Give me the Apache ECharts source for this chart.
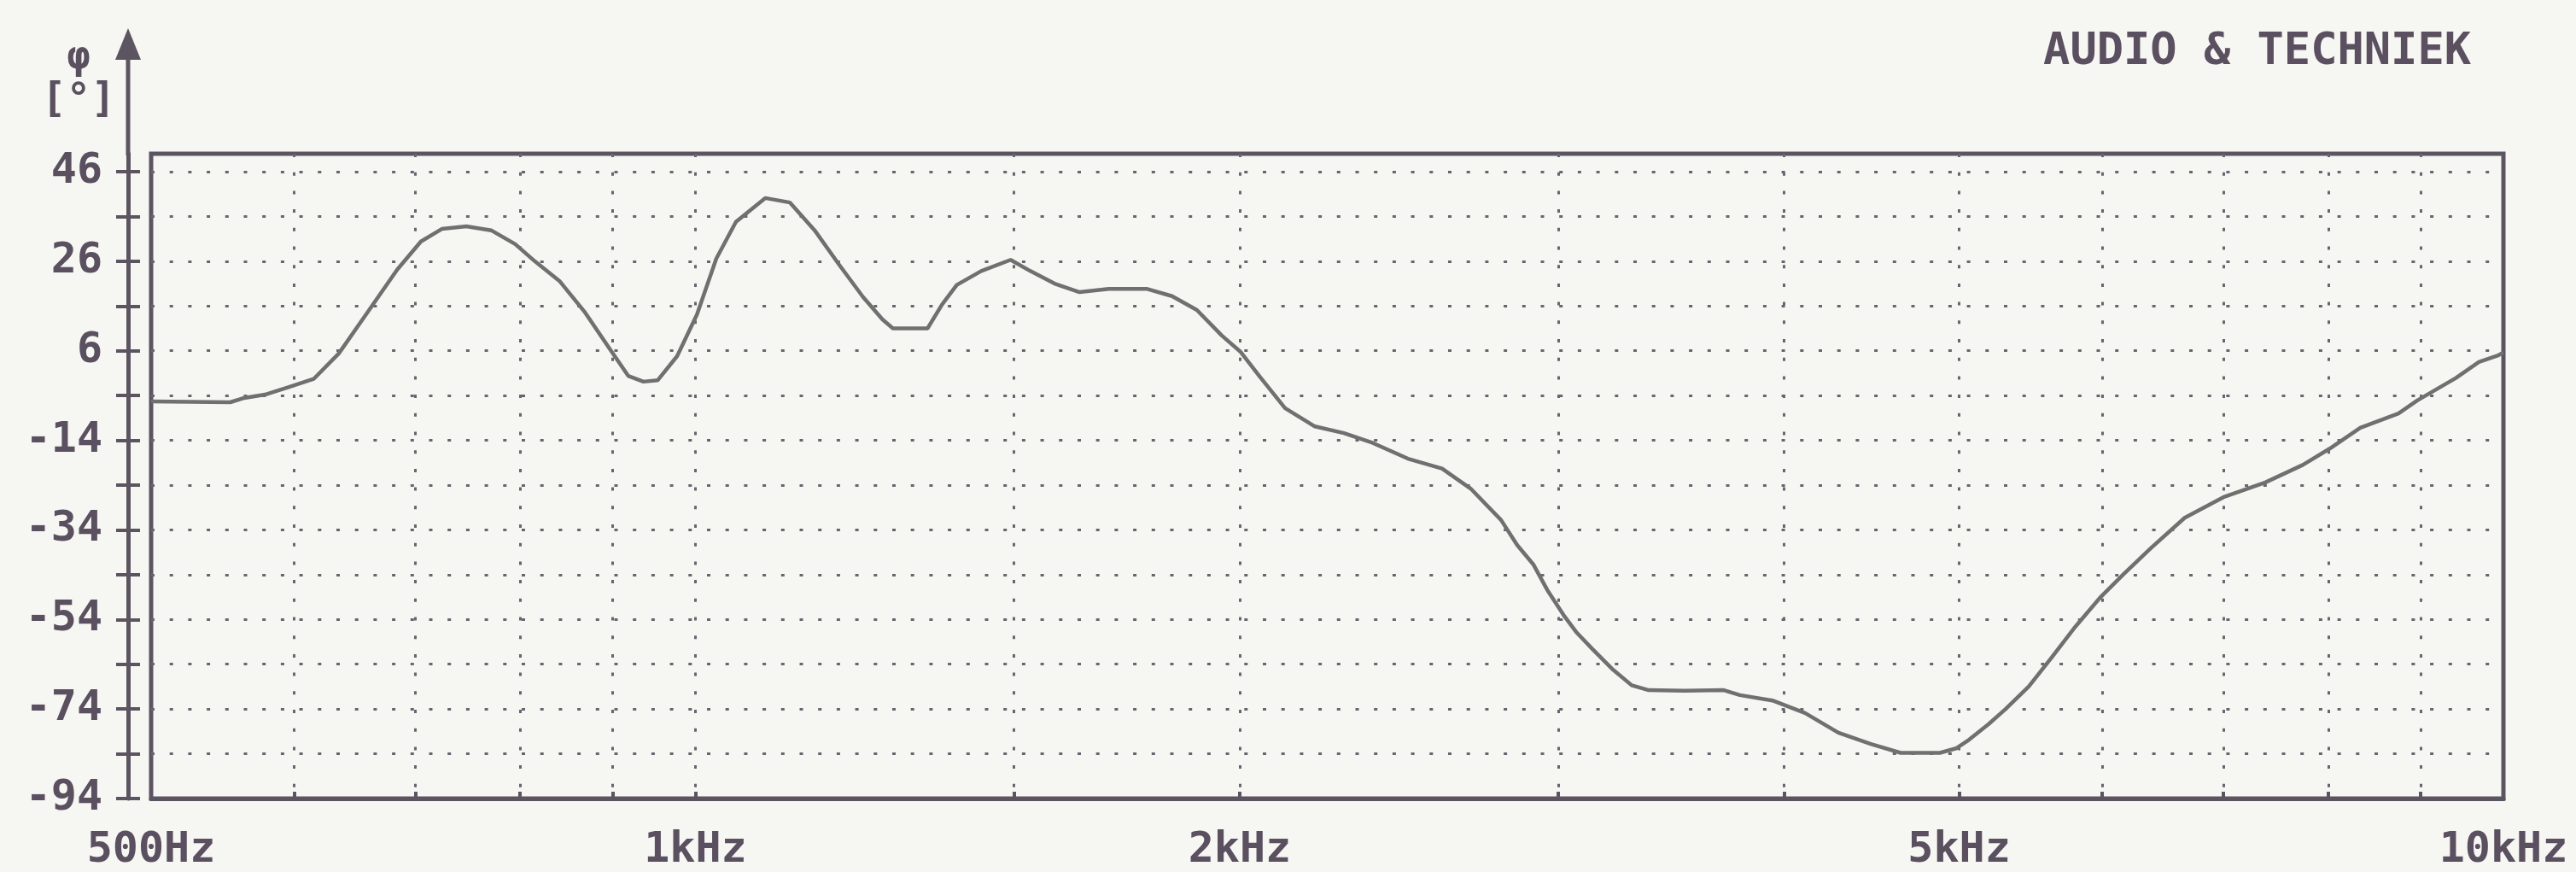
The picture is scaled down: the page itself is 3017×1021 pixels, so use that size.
<!DOCTYPE html>
<html>
<head>
<meta charset="utf-8">
<script src="https://cdn.jsdelivr.net/npm/echarts@6/dist/echarts.min.js"></script>
<style>
html,body{margin:0;padding:0;background:#f6f6f2;}
#chart{width:3017px;height:1021px;}
</style>
</head>
<body>
<div id="chart"></div>
<script>
// Frequency (Hz) of each traced point
const freqs = [500, 553, 562, 578, 596, 615, 635, 659, 684, 705, 724, 747, 771, 795, 815, 841, 868, 896, 918, 936, 953, 977, 1002, 1027, 1053, 1093, 1128, 1164, 1200, 1238, 1269, 1286, 1344, 1369, 1395, 1439, 1494, 1532, 1580, 1631, 1693, 1778, 1835, 1894, 1955, 2003, 2053, 2119, 2201, 2284, 2370, 2478, 2588, 2686, 2790, 2848, 2908, 2959, 3021, 3070, 3134, 3213, 3295, 3367, 3524, 3705, 3782, 3942, 4109, 4287, 4468, 4641, 4879, 4980, 5062, 5190, 5305, 5463, 5625, 5787, 5990, 6164, 6382, 6664, 7000, 7384, 7745, 8012, 8334, 8749, 8961, 9412, 9692, 9925, 10000];
// Phase (degrees) at each frequency
const phase = [-5.3, -5.5, -4.6, -3.8, -2.1, -0.3, 5.4, 14.7, 24.1, 30.4, 33.2, 33.8, 32.9, 29.8, 26.0, 21.6, 14.8, 6.6, 0.4, -0.9, -0.6, 4.8, 14.1, 26.6, 34.8, 40.1, 39.1, 32.9, 25.4, 18.0, 13.0, 11.0, 11.0, 16.3, 20.7, 23.8, 26.3, 23.8, 21.0, 19.1, 19.8, 19.8, 18.2, 15.1, 9.4, 5.7, 0.1, -6.8, -10.9, -12.4, -14.6, -18.1, -20.3, -24.9, -31.8, -37.4, -41.8, -47.4, -53.0, -56.8, -60.6, -65.0, -68.7, -69.8, -69.9, -69.8, -70.9, -72.1, -74.9, -79.3, -81.8, -83.8, -83.8, -82.8, -80.9, -77.4, -74.0, -69.0, -62.5, -56.0, -48.9, -43.9, -38.1, -31.3, -26.7, -23.4, -19.5, -15.9, -11.2, -8.0, -5.1, -0.1, 3.5, 4.9, 5.6];

// Axis ticks / labels
const xGridValues = [600, 700, 800, 900, 1000, 1500, 2000, 3000, 4000, 5000, 6000, 7000, 8000, 9000];
const xLabelValues = [500, 1000, 2000, 5000, 10000];
const yGridValues = [-84, -74, -64, -54, -44, -34, -24, -14, -4, 6, 16, 26, 36, 46];
const yTickValues = [-94, -84, -74, -64, -54, -44, -34, -24, -14, -4, 6, 16, 26, 36, 46];
const yLabelValues = [-94, -74, -54, -34, -14, 6, 26, 46];
const yMin = -94, yMax = 50;

const axisColor = '#5d5461';
const gridColor = '#6b6470';
const textColor = '#5a5060';
const font = 'DejaVu Sans Mono';

const data = freqs.map((f, i) => [f, phase[i]]);

const chart = echarts.init(document.getElementById('chart'), null, {renderer: 'canvas'});
chart.setOption({
  backgroundColor: '#f6f6f2',
  animation: false,
  title: [
    {text: 'AUDIO & TECHNIEK', right: 118, top: 30,
     textStyle: {fontFamily: font, fontWeight: 'bold', fontSize: 52, color: textColor}},
    {text: 'φ', left: 87, textAlign: 'center', top: 40,
     textStyle: {fontFamily: font, fontWeight: 'bold', fontSize: 46, color: textColor}},
    {text: '[°]', left: 87, textAlign: 'center', top: 90,
     textStyle: {fontFamily: font, fontWeight: 'bold', fontSize: 48, color: textColor}}
  ],
  grid: {left: 177, right: 85, top: 180, bottom: 77, show: true,
         borderColor: axisColor, borderWidth: 5, backgroundColor: 'transparent'},
  xAxis: {
    type: 'log', logBase: 10, min: 500, max: 10000,
    axisLine: {show: true, onZero: false, lineStyle: {color: axisColor, width: 5}},
    axisTick: {show: true, inside: true, length: 8, customValues: xGridValues,
               lineStyle: {color: axisColor, width: 4}},
    axisLabel: {customValues: xLabelValues, margin: 36,
                fontFamily: font, fontWeight: 'bold', fontSize: 50, color: textColor,
                formatter: v => v >= 1000 ? (v / 1000) + 'kHz' : v + 'Hz'},
    splitLine: {show: true, lineStyle: {color: gridColor, width: 3, type: [4, 17.7]}},
    minorTick: {show: false}, minorSplitLine: {show: false}
  },
  yAxis: [
    {
      type: 'value', min: yMin, max: yMax, position: 'left', offset: 27,
      axisLine: {show: true, onZero: false, lineStyle: {color: axisColor, width: 5}},
      axisTick: {show: true, inside: false, length: 14, customValues: yTickValues,
                 lineStyle: {color: axisColor, width: 4}},
      axisLabel: {customValues: yLabelValues, margin: 30,
                  fontFamily: font, fontWeight: 'bold', fontSize: 50, color: textColor},
      splitLine: {show: false}
    },
    {
      type: 'value', min: yMin, max: yMax, position: 'left', offset: 27,
      axisLine: {show: false, onZero: false},
      axisTick: {show: true, inside: true, length: 14, customValues: yTickValues,
                 lineStyle: {color: axisColor, width: 4}},
      axisLabel: {show: false},
      splitLine: {show: false}
    },
    {
      type: 'value', min: yMin, max: yMax, position: 'right',
      axisLine: {show: false, onZero: false}, axisLabel: {show: false},
      axisTick: {show: false, customValues: yGridValues},
      splitLine: {show: true, lineStyle: {color: gridColor, width: 3, type: [4, 17.7]}}
    }
  ],
  graphic: [
    {type: 'line', shape: {x1: 150, y1: 182, x2: 150, y2: 66},
     style: {stroke: axisColor, lineWidth: 5}},
    {type: 'polygon', shape: {points: [[150, 33], [135, 70], [165, 70]]},
     style: {fill: axisColor}}
  ],
  series: [{
    type: 'line', xAxisIndex: 0, yAxisIndex: 0, data: data,
    showSymbol: false, symbol: 'none', smooth: false,
    lineStyle: {color: '#707070', width: 4.5},
    z: 5
  }]
});
</script>
</body>
</html>
